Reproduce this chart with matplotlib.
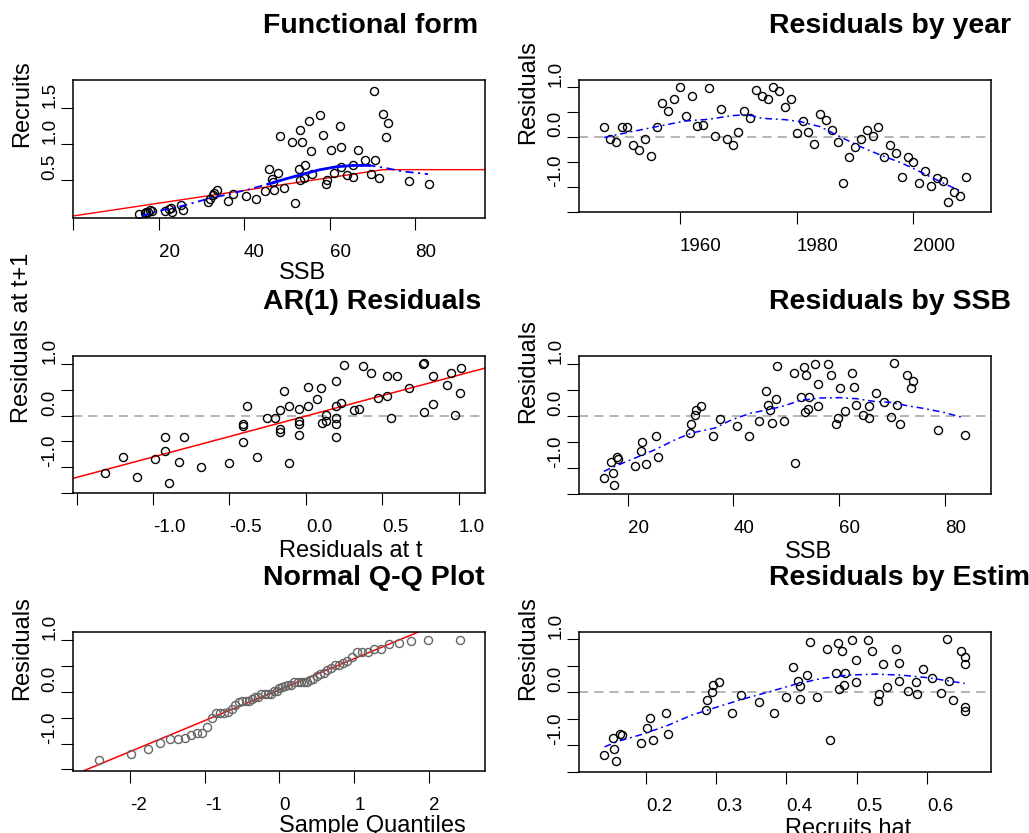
import statistics
import numpy as np
import matplotlib
matplotlib.use("Agg")
import matplotlib.pyplot as plt

plt.rcParams['font.family'] = ['Liberation Sans', 'DejaVu Sans']

# --- data ---
years = list(range(1947, 2010))
resid_year = [0.195, -0.047, -0.107, 0.195, 0.195, -0.168, -0.255, -0.047, -0.383, 0.195,
              0.678, 0.53, 0.765, 1.007, 0.43, 0.832, 0.228, 0.248, 0.98, 0.013,
              0.557, -0.047, -0.168, 0.10, 0.53, 0.376, 0.953, 0.832, 0.772, 1.013,
              0.926, 0.597, 0.772, 0.074, 0.315, 0.107, -0.141, 0.47, 0.349, 0.134,
              -0.107, -0.919, -0.409, -0.201, -0.047, 0.134, 0.013, 0.195, -0.409, -0.168,
              -0.322, -0.799, -0.409, -0.503, -0.919, -0.685, -0.987, -0.832, -0.893, -1.315,
              -1.107, -1.195, -0.799]

# functional form: SSB vs recruits
ff_ssb = [15.46, 16.79, 17.17, 17.64, 18.03, 18.42, 21.45, 22.54, 22.85, 23.16,
          25.34, 25.65, 31.56, 32.10, 32.65, 33.03, 33.66, 36.14, 37.47, 40.34,
          42.83, 44.85, 45.86, 46.56, 46.95, 46.87, 48.04, 48.35, 49.36, 51.15,
          51.85, 52.78, 53.17, 53.17, 53.64, 54.02, 54.34, 55.27, 55.74, 55.81,
          57.76, 58.46, 59.16, 59.47, 60.25, 60.95, 62.34, 62.65, 62.73, 64.05,
          65.45, 65.45, 66.54, 68.18, 69.65, 70.27, 70.66, 71.44, 72.45, 73.23,
          73.54, 78.44, 83.26]
ff_rec = [0.028, 0.046, 0.060, 0.051, 0.079, 0.074, 0.065, 0.093, 0.111, 0.060,
          0.153, 0.088, 0.190, 0.241, 0.287, 0.319, 0.361, 0.213, 0.306, 0.278,
          0.236, 0.343, 0.653, 0.509, 0.361, 0.468, 0.593, 1.116, 0.384, 1.028,
          0.176, 0.653, 1.194, 0.505, 1.028, 0.528, 0.704, 1.319, 0.903, 0.583,
          1.403, 1.130, 0.440, 0.505, 0.921, 0.593, 1.259, 0.963, 0.685, 0.569,
          0.546, 0.704, 0.921, 0.778, 0.588, 1.741, 0.778, 0.528, 1.426, 1.093,
          1.301, 0.486, 0.444]
sr_ssb = [0, 72.5, 96.2]
sr_rec = [0, 0.645, 0.645]
ff_smooth_ssb = [16.1, 19.6, 25.8, 31.6, 35.9, 41.4, 45.6, 49.9, 53.8, 57.7, 61.6, 65.5,
                 69.3, 73.2, 77.1, 83.0]
ff_smooth_rec = [0.0, 0.065, 0.144, 0.241, 0.296, 0.375, 0.444, 0.519, 0.583, 0.644, 0.685,
                 0.704, 0.704, 0.667, 0.620, 0.583]

yr_smooth_x = [1947, 1951.7, 1956, 1960.9, 1964.9, 1968.9, 1970.9, 1972.3, 1974, 1978,
               1980.6, 1984, 1987.4, 1990.9, 1994.3, 1997.7, 2001.1, 2004.6, 2008.5]
yr_smooth_y = [-0.01, 0.107, 0.208, 0.322, 0.356, 0.43, 0.443, 0.43, 0.376, 0.349,
               0.309, 0.208, 0.007, -0.195, -0.362, -0.51, -0.698, -0.899, -1.114]

ar_line_x = [-1.524, 1.17]
ar_line_y = [-1.217, 0.917]

# residuals by SSB
ssb = [15.5, 16.8, 17.3, 17.5, 17.9, 18.2, 21.4, 22.6, 22.8, 23.4,
       25.4, 25.7, 31.8, 31.9, 32.7, 33.0, 33.9, 36.1, 37.5, 40.7,
       42.9, 44.9, 46.1, 46.6, 47.0, 47.2, 48.0, 48.3, 49.5, 51.4,
       51.7, 52.8, 53.3, 53.5, 53.7, 54.1, 54.3, 55.4, 56.0, 56.0,
       57.9, 58.5, 59.4, 59.7, 60.2, 61.1, 62.5, 62.8, 63.1, 64.5,
       65.6, 65.6, 67.0, 68.5, 69.8, 70.4, 70.9, 71.5, 72.9, 73.6,
       73.9, 78.7, 83.8]
resid_ssb = [-1.199, -0.885, -1.09, -1.32, -0.795, -0.827, -0.968, -0.68, -0.506, -0.917,
             -0.391, -0.795, -0.333, -0.16, 0.013, 0.122, 0.186, -0.391, -0.051, -0.192,
             -0.391, -0.103, 0.474, 0.218, 0.122, -0.128, 0.327, 0.968, -0.103, 0.827,
             -0.91, 0.359, 0.942, 0.077, 0.795, 0.135, 0.365, 0.994, 0.622, 0.186,
             0.994, 0.795, -0.154, -0.038, 0.532, 0.103, 0.821, 0.564, 0.218, 0.019,
             -0.045, 0.186, 0.449, 0.276, -0.013, 1.026, 0.218, -0.154, 0.795, 0.538,
             0.679, -0.269, -0.359]
ssb_smooth_x = [15.5, 17.6, 21.4, 25.2, 29.0, 32.1, 36.5, 39.7, 43.4, 47.2, 49.7, 52.6,
                56.4, 60.1, 63.3, 66.5, 69.6, 72.8, 75.9, 79.7, 83.3]
ssb_smooth_y = [-1.064, -0.968, -0.808, -0.647, -0.455, -0.327, -0.231, -0.071, 0.058,
                0.135, 0.199, 0.301, 0.346, 0.353, 0.333, 0.282, 0.263, 0.199, 0.147,
                0.071, -0.026]

qq_line_x = [-2.59, 1.89]
qq_line_y = [-1.51, 1.18]

# residuals by estimated recruits
rec_hat = [0.140, 0.153, 0.155, 0.157, 0.163, 0.166, 0.193, 0.202, 0.206, 0.210,
           0.229, 0.232, 0.285, 0.287, 0.294, 0.295, 0.304, 0.323, 0.336, 0.361,
           0.383, 0.400, 0.410, 0.417, 0.419, 0.419, 0.430, 0.433, 0.443, 0.458,
           0.462, 0.471, 0.474, 0.475, 0.479, 0.482, 0.483, 0.494, 0.499, 0.499,
           0.516, 0.522, 0.530, 0.532, 0.537, 0.543, 0.556, 0.560, 0.560, 0.573,
           0.584, 0.586, 0.595, 0.607, 0.620, 0.629, 0.631, 0.637, 0.648, 0.654,
           0.654, 0.654, 0.654]
resid_hat = [-1.176, -0.862, -1.063, -1.296, -0.780, -0.811, -0.950, -0.667, -0.491, -0.893,
             -0.384, -0.780, -0.327, -0.151, 0.013, 0.132, 0.189, -0.384, -0.044, -0.182,
             -0.384, -0.094, 0.472, 0.220, 0.119, -0.126, 0.327, 0.950, -0.094, 0.811,
             -0.893, 0.358, 0.925, 0.069, 0.780, 0.132, 0.358, 0.981, 0.610, 0.189,
             0.981, 0.780, -0.157, -0.038, 0.528, 0.101, 0.811, 0.553, 0.214, 0.019,
             0.189, -0.038, 0.440, 0.277, -0.013, 1.006, 0.214, -0.151, 0.780, 0.667,
             0.528, -0.270, -0.352]
rh_smooth_x = [0.141, 0.161, 0.194, 0.232, 0.265, 0.298, 0.336, 0.374, 0.412, 0.450,
               0.488, 0.526, 0.564, 0.602, 0.654]
rh_smooth_y = [-1.025, -0.918, -0.792, -0.616, -0.428, -0.289, -0.132, 0.006, 0.151,
               0.264, 0.327, 0.346, 0.327, 0.277, 0.170]

# --- layout (pixel boxes of the reference) ---
W, H = 1029, 833
TICK_FS, LAB_FS, TITLE_FS = 13.5, 17, 20.5
SMOOTH_LS = (0, (4.5, 2.5, 1.2, 2.5))


def rect(x0, y0, x1, y1):
    return [x0 / W, 1 - y1 / H, (x1 - x0) / W, (y1 - y0) / H]


def fig_text(fig, px, py, s, **kw):
    fig.text(px / W, 1 - py / H, s, **kw)


def style(ax, xticks, xlabels, yticks, ylabels, xlim, ylim):
    ax.set_xlim(*xlim)
    ax.set_ylim(*ylim)
    ax.set_xticks(xticks, labels=xlabels, ha='left', fontsize=TICK_FS)
    ax.set_yticks(yticks, labels=ylabels, rotation=90, va='bottom', fontsize=TICK_FS)
    ax.tick_params(direction='out', length=8.4, width=0.8, color='black')
    ax.tick_params(axis='x', pad=10.5)
    ax.tick_params(axis='y', pad=2.0)
    for sp in ax.spines.values():
        sp.set_linewidth(1.1)


def scatter(ax, x, y, color='black'):
    ax.plot(x, y, 'o', mfc='none', mec=color, ms=5.8, mew=1.0, zorder=3)


def zero_line(ax):
    ax.axhline(0, color='#a0a0a0', lw=1.1, ls=(0, (6, 4)), zorder=1)


def panel_text(fig, box, title, xlabel, ylabel, xlab_y):
    x0, y0, x1, y1 = box
    cx = (x0 + x1) / 2
    fig_text(fig, cx - 15.4, y0 - 47, title, fontsize=TITLE_FS, fontweight='bold',
             ha='left', va='baseline')
    if xlabel:
        fig_text(fig, cx, xlab_y, xlabel, fontsize=LAB_FS, ha='left', va='baseline')
    fig_text(fig, x0 - 45, (y0 + y1) / 2 - 2, ylabel, fontsize=LAB_FS, rotation=90,
             rotation_mode='anchor', ha='left', va='baseline')


res_ticks = [-1.5, -1.0, -0.5, 0.0, 0.5, 1.0]
res_labels = ['', '-1.0', '', '0.0', '', '1.0']

fig = plt.figure(figsize=(W / 100, H / 100), dpi=100)

# Functional form
box = (73, 80, 484.5, 218)
ax = fig.add_axes(rect(*box))
ax.plot(sr_ssb, sr_rec, color='red', lw=1.0, zorder=2)
scatter(ax, ff_ssb, ff_rec)
ax.plot(ff_smooth_ssb, ff_smooth_rec, color='blue', lw=1.3, ls=SMOOTH_LS, zorder=4)
thick = [(s, r) for s, r in zip(ff_smooth_ssb, ff_smooth_rec) if 45 <= s <= 70]
ax.plot([t[0] for t in thick], [t[1] for t in thick], color='blue', lw=2.0, zorder=4)
style(ax, [0, 20, 40, 60, 80], ['', '20', '40', '60', '80'],
      [0.5, 1.0, 1.5], ['0.5', '1.0', '1.5'], (0, 96.2), (-0.028, 1.893))
panel_text(fig, box, 'Functional form', 'SSB', 'Recruits', 279)

# Residuals by year
box = (579, 80, 990.5, 212)
ax = fig.add_axes(rect(*box))
zero_line(ax)
scatter(ax, years, resid_year)
ax.plot(yr_smooth_x, yr_smooth_y, color='blue', lw=1.1, ls=SMOOTH_LS, zorder=4)
style(ax, [1960, 1980, 2000], ['1960', '1980', '2000'], res_ticks, res_labels,
      (1942.7, 2013.2), (-1.51, 1.147))
panel_text(fig, box, 'Residuals by year', None, 'Residuals', None)

# AR(1) residuals
box = (73, 356, 484.5, 493)
ax = fig.add_axes(rect(*box))
zero_line(ax)
ax.axline((ar_line_x[0], ar_line_y[0]), (ar_line_x[1], ar_line_y[1]), color='red', lw=1.1, zorder=2)
scatter(ax, resid_year[:-1], resid_year[1:])
style(ax, [-1.5, -1.0, -0.5, 0.0, 0.5, 1.0], ['', '-1.0', '-0.5', '0.0', '0.5', '1.0'],
      res_ticks, res_labels, (-1.524, 1.17), (-1.48, 1.154))
panel_text(fig, box, 'AR(1) Residuals', 'Residuals at t', 'Residuals at t+1', 557)

# Residuals by SSB
box = (579, 356, 990.5, 494)
ax = fig.add_axes(rect(*box))
zero_line(ax)
scatter(ax, ssb, resid_ssb)
ax.plot(ssb_smooth_x, ssb_smooth_y, color='blue', lw=1.1, ls=SMOOTH_LS, zorder=4)
style(ax, [20, 40, 60, 80], ['20', '40', '60', '80'], res_ticks, res_labels,
      (10.8, 88.6), (-1.48, 1.154))
panel_text(fig, box, 'Residuals by SSB', 'SSB', 'Residuals', 558)

# Normal Q-Q plot
box = (73, 632, 484.5, 771)
ax = fig.add_axes(rect(*box))
n = len(resid_year)
theo = [statistics.NormalDist().inv_cdf((i + 0.5) / n) for i in range(n)]
ax.axline((qq_line_x[0], qq_line_y[0]), (qq_line_x[1], qq_line_y[1]), color='red', lw=1.1, zorder=2)
scatter(ax, theo, sorted(resid_year), color='#666666')
style(ax, [-2, -1, 0, 1, 2], ['-2', '-1', '0', '1', '2'], res_ticks, res_labels,
      (-2.76, 2.74), (-1.53, 1.16))
panel_text(fig, box, 'Normal Q-Q Plot', 'Sample Quantiles', 'Residuals', 832)

# Residuals by estimated recruits
box = (579, 632, 990.5, 772)
ax = fig.add_axes(rect(*box))
zero_line(ax)
scatter(ax, rec_hat, resid_hat)
ax.plot(rh_smooth_x, rh_smooth_y, color='blue', lw=1.1, ls=SMOOTH_LS, zorder=4)
style(ax, [0.2, 0.3, 0.4, 0.5, 0.6], ['0.2', '0.3', '0.4', '0.5', '0.6'], res_ticks, res_labels,
      (0.1046, 0.6907), (-1.50, 1.14))
panel_text(fig, box, 'Residuals by Estimated Recruits', 'Recruits hat', 'Residuals', 835)

fig.savefig('out.png', dpi=100)
